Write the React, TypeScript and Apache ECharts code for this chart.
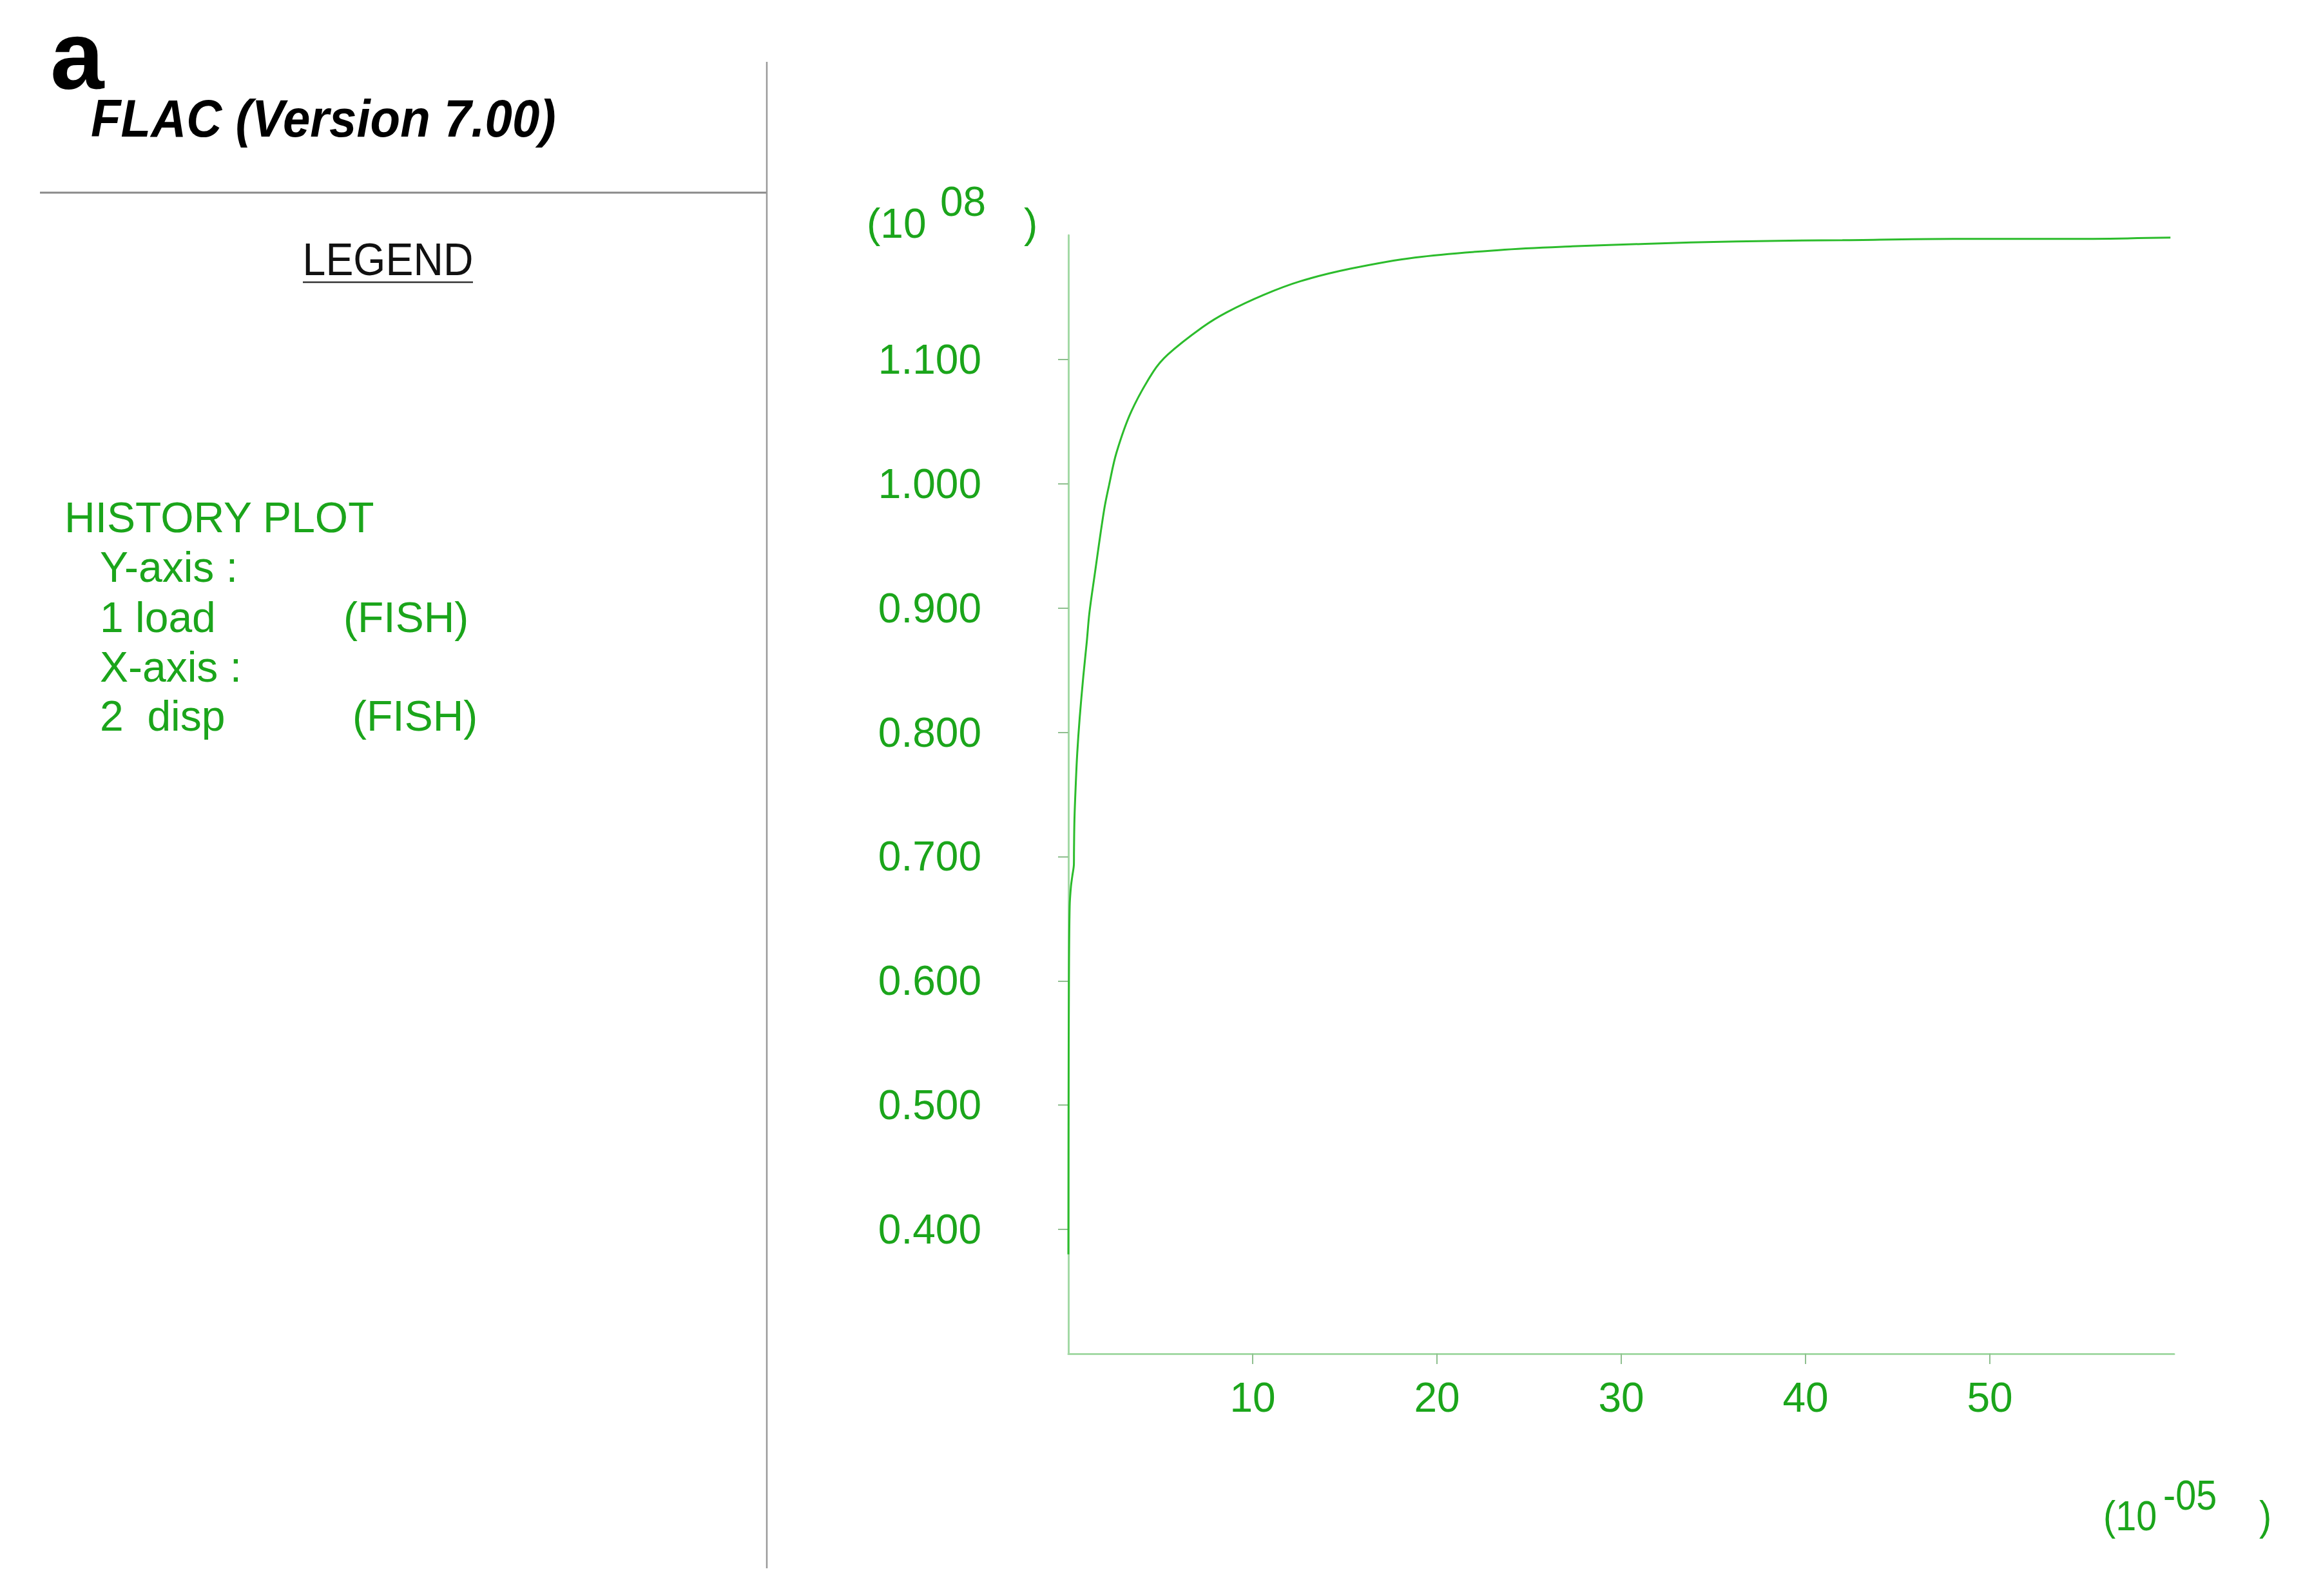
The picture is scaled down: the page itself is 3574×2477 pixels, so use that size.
import React, { useEffect, useRef } from "react";
import * as echarts from "echarts";

// displacement (x 10^-5) and load (x 10^8)
const disp = [0, 0.01, 0.03, 0.07, 0.14, 0.22, 0.3, 0.305, 0.33, 0.4, 0.48, 0.61, 0.81, 1.0, 1.14, 1.41, 1.94, 2.21, 2.61, 3.41, 4.6, 5.4, 7.28, 8.6, 10.6, 12.6, 15.3, 18.8, 23.35, 27.35, 31.3, 36.25, 42, 48, 54, 59.8];
const load = [0.38, 0.5, 0.6, 0.66, 0.676, 0.685, 0.694, 0.705, 0.73, 0.758, 0.783, 0.811, 0.845, 0.873, 0.896, 0.925, 0.979, 0.999, 1.025, 1.058, 1.09, 1.104, 1.126, 1.138, 1.152, 1.163, 1.173, 1.182, 1.188, 1.191, 1.193, 1.195, 1.196, 1.197, 1.197, 1.198];

const yTicks = [0.4, 0.5, 0.6, 0.7, 0.8, 0.9, 1.0, 1.1];
const xTicks = [10, 20, 30, 40, 50];

const legendLines = ["HISTORY PLOT", "Y-axis :", "1 load", "X-axis :", "2  disp"];
const legendTags = ["(FISH)", "(FISH)"];

const GREEN = "#1ba51b";
const FONT = "'Liberation Sans', Arial, Helvetica, sans-serif";

export default function App() {
  const ref = useRef<HTMLDivElement>(null);
  useEffect(() => {
    const chart = echarts.init(ref.current!, null, { renderer: "svg" });
    const data = disp.map((d, i) => [d, load[i]]);
    const txt = (text: string, x: number, y: number, size: number, opts: any = {}) => ({
      type: "text",
      x,
      y,
      scaleX: opts.scaleX ?? 1,
      style: {
        text,
        fill: opts.fill ?? GREEN,
        font: `${opts.weight ?? "normal"} ${size}px ${FONT}`,
        lineHeight: opts.lineHeight ?? size,
        textAlign: opts.align ?? "left",
        textVerticalAlign: "middle",
        align: opts.align ?? "left",
        verticalAlign: "middle",
      },
    });
    chart.setOption({
      animation: false,
      backgroundColor: "#ffffff",
      grid: { left: 1658, top: 365, right: 200, bottom: 376, containLabel: false, outerBoundsMode: "none" },
      xAxis: {
        type: "value",
        min: 0,
        max: 60,
        axisLine: { show: true, onZero: false, lineStyle: { color: "#a3d9a5", width: 3 } },
        axisTick: { show: true, customValues: xTicks, length: 16, lineStyle: { color: "#8fbf8f", width: 2 } },
        axisLabel: {
          customValues: xTicks,
          color: GREEN,
          fontSize: 64,
          fontFamily: FONT,
          margin: 36,
          formatter: (v: number) => String(Math.round(v)),
        },
        splitLine: { show: false },
      },
      yAxis: {
        type: "value",
        min: 0.3,
        max: 1.2,
        axisLine: { show: true, onZero: false, lineStyle: { color: "#a3d9a5", width: 3 } },
        axisTick: { show: true, customValues: yTicks, length: 16, lineStyle: { color: "#8fbf8f", width: 2 } },
        axisLabel: {
          customValues: yTicks,
          color: GREEN,
          fontSize: 64,
          fontFamily: FONT,
          margin: 135,
          formatter: (v: number) => v.toFixed(3),
        },
        splitLine: { show: false },
      },
      series: [
        {
          type: "line",
          data,
          showSymbol: false,
          smooth: 0.35,
          lineStyle: { color: "#2cbc2c", width: 3 },
        },
      ],
      graphic: [
        txt("a", 78, 86, 150, { fill: "#000000", weight: "bold", lineHeight: 130 }),
        {
          type: "text",
          x: 141,
          y: 184,
          scaleX: 0.93,
          style: {
            text: "FLAC (Version 7.00)",
            fill: "#000000",
            font: `italic bold 82px ${FONT}`,
            textAlign: "left",
            textVerticalAlign: "middle",
            align: "left",
            verticalAlign: "middle",
          },
        },
        { type: "line", shape: { x1: 62, y1: 299, x2: 1190, y2: 299 }, style: { stroke: "#8a8a8a", lineWidth: 3 } },
        { type: "line", shape: { x1: 1190, y1: 96, x2: 1190, y2: 2434 }, style: { stroke: "#9a9a9a", lineWidth: 2.5 } },
        {
          type: "text",
          x: 602,
          y: 403,
          scaleX: 0.92,
          style: {
            text: "LEGEND",
            fill: "#111111",
            font: `normal 70px ${FONT}`,
            textAlign: "center",
            textVerticalAlign: "middle",
            align: "center",
            verticalAlign: "middle",
          },
        },
        { type: "line", shape: { x1: 470, y1: 438, x2: 734, y2: 438 }, style: { stroke: "#333333", lineWidth: 2.5 } },
        txt(legendLines[0], 100, 803, 66),
        txt(legendLines[1], 155, 880, 66),
        txt(legendLines[2], 155, 958, 66),
        txt(legendTags[0], 533, 958, 66),
        txt(legendLines[3], 155, 1035, 66),
        txt(legendLines[4], 155, 1111, 66),
        txt(legendTags[1], 547, 1111, 66),
        txt("(10", 1345, 347, 64),
        txt("08", 1459, 313, 64),
        txt(")", 1589, 347, 64),
        txt("(10", 3264, 2353, 64, { scaleX: 0.9 }),
        txt("-05", 3357, 2321, 64, { scaleX: 0.9 }),
        txt(")", 3506, 2353, 64, { scaleX: 0.9 }),
      ],
    });
    return () => chart.dispose();
  }, []);
  return (
    <div
      ref={ref}
      style={{ position: "fixed", left: 0, top: 0, width: 3574, height: 2477, background: "#fff" }}
    />
  );
}
